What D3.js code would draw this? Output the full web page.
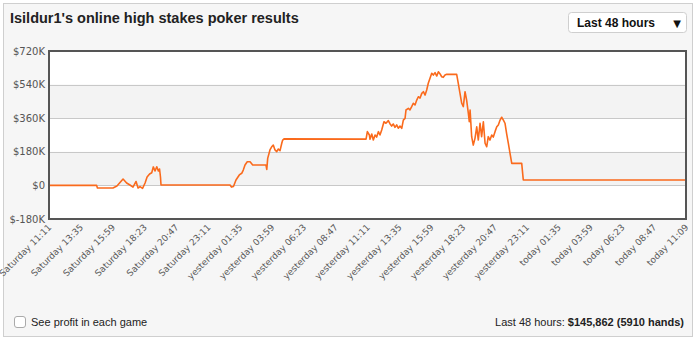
<!DOCTYPE html>
<html>
<head>
<meta charset="utf-8">
<script src="https://cdn.jsdelivr.net/npm/d3@7"></script>
<style>
  body { margin: 0; background: #fff; }
  svg { display: block; }
</style>
</head>
<body>
<div id="chart"></div>
<script>
// hours since start of the 48h window, and running profit in $K
var hours = [0, 3.59, 3.65, 4.82, 5.12, 5.58, 5.85, 6.10, 6.33, 6.56, 6.71, 6.86, 7.05, 7.24, 7.39, 7.58, 7.74, 7.86, 7.99, 8.12, 8.24, 8.33, 8.40, 8.44,
  13.64, 13.75, 13.90, 14.09, 14.34, 14.52, 14.64, 14.77, 14.94, 15.15, 15.35, 16.35, 16.41, 16.48, 16.65, 16.78, 16.90, 17.03, 17.16, 17.28, 17.41, 17.54, 17.61, 17.71,
  23.89, 23.99, 24.14, 24.19, 24.32, 24.44, 24.57, 24.69, 24.82, 24.94, 25.07, 25.24, 25.39, 25.57, 25.70, 25.82, 25.94, 26.07, 26.20, 26.32, 26.45, 26.58, 26.70, 26.83,
  26.90, 27.08, 27.20, 27.33, 27.45, 27.58, 27.71, 27.83, 27.96, 28.09, 28.21, 28.34, 28.46, 28.58, 28.71, 28.84, 28.96, 29.09, 29.22, 29.34, 29.47, 29.59, 29.71, 29.84, 29.97,
  30.72, 30.84, 30.97, 31.10, 31.22, 31.35, 31.47, 31.60, 31.67, 31.73, 31.85, 31.97, 32.10, 32.23, 32.35, 32.48, 32.60, 32.73, 32.86, 32.98, 33.10, 33.23, 33.36, 33.48,
  33.61, 33.74, 33.86, 33.99, 34.11, 34.24, 34.36, 34.49, 34.61, 34.74, 34.87, 35.62, 35.74, 48];
var profit = [0, 0, -14, -14, -3, 34, 13, 2, -9, 21, -14, -6, -16, 13, 45, 61, 68, 99, 77, 100, 77, 88, 45, 2,
  2, -9, -6, 29, 56, 65, 82, 109, 127, 127, 109, 109, 86, 145, 190, 207, 216, 190, 181, 195, 186, 226, 243, 249,
  248, 288, 270, 247, 275, 243, 270, 259, 288, 270, 297, 341, 333, 347, 329, 318, 329, 311, 324, 306, 318, 306, 350, 359,
  404, 413, 404, 422, 440, 431, 457, 475, 468, 493, 502, 484, 511, 547, 574, 601, 591, 604, 586, 609, 597, 582, 579, 591, 595,
  595, 547, 493, 440, 422, 502, 457, 386, 341, 404, 261, 216, 252, 314, 243, 333, 261, 341, 226, 207, 261, 243, 270, 259,
  288, 314, 324, 350, 365, 350, 333, 275, 226, 172, 118, 118, 29, 29];

var yTicks = [-180, 0, 180, 360, 540, 720];
var xLabels = ["Saturday 11:11", "Saturday 13:35", "Saturday 15:59", "Saturday 18:23", "Saturday 20:47", "Saturday 23:11",
  "yesterday 01:35", "yesterday 03:59", "yesterday 06:23", "yesterday 08:47", "yesterday 11:11", "yesterday 13:35",
  "yesterday 15:59", "yesterday 18:23", "yesterday 20:47", "yesterday 23:11",
  "today 01:35", "today 03:59", "today 06:23", "today 08:47", "today 11:09"];

var W = 700, H = 346;
var plot = {left: 49, top: 51, right: 686, bottom: 219};
var axisFont = "DejaVu Sans, Verdana, sans-serif";
var uiFont = "Liberation Sans, Arial, Helvetica, sans-serif";

var svg = d3.select("#chart").append("svg").attr("width", W).attr("height", H);

// outer panel
svg.append("rect").attr("x", 3.5).attr("y", 3.5).attr("width", 689).attr("height", 333)
  .style("fill", "#f6f6f6").style("stroke", "#cfcfcf");

svg.append("text").attr("x", 10).attr("y", 23)
  .style("font-family", uiFont).style("font-weight", "bold").style("font-size", "14.5px")
  .style("fill", "#222").text("Isildur1's online high stakes poker results");

// dropdown
var dd = svg.append("g");
dd.append("rect").attr("x", 568.5).attr("y", 12.5).attr("width", 118).attr("height", 20).attr("rx", 3)
  .style("fill", "#fff").style("stroke", "#cfcfcf");
dd.append("text").attr("x", 577).attr("y", 26.5)
  .style("font-family", uiFont).style("font-weight", "bold").style("font-size", "12px").style("fill", "#111")
  .text("Last 48 hours");
dd.append("text").attr("x", 677).attr("y", 26.5).attr("text-anchor", "middle")
  .style("font-family", axisFont).style("font-size", "10px").style("fill", "#111").text("\u25BC");

var x = d3.scaleLinear().domain([0, 48]).range([plot.left, plot.right]);
var y = d3.scaleLinear().domain([-180, 720]).range([plot.bottom, plot.top]);

// plot background and alternating bands
svg.append("rect").attr("x", plot.left).attr("y", plot.top)
  .attr("width", plot.right - plot.left).attr("height", plot.bottom - plot.top).style("fill", "#fff");
[[360, 540], [0, 180]].forEach(function(b) {
  svg.append("rect").attr("x", plot.left).attr("y", y(b[1]))
    .attr("width", plot.right - plot.left).attr("height", y(b[0]) - y(b[1]))
    .style("fill", "#f3f3f3");
});
svg.selectAll("line.grid").data(yTicks.slice(1, -1)).enter().append("line")
  .attr("class", "grid")
  .attr("x1", plot.left).attr("x2", plot.right)
  .attr("y1", function(d) { return Math.round(y(d)) + 0.5; })
  .attr("y2", function(d) { return Math.round(y(d)) + 0.5; })
  .style("stroke", "#c8c8c8");

// y axis labels
svg.selectAll("text.ylab").data(yTicks).enter().append("text")
  .attr("class", "ylab")
  .attr("x", 45).attr("y", function(d) { return y(d) + 3.5; })
  .attr("text-anchor", "end")
  .style("font-family", axisFont).style("font-size", "10px").style("fill", "#555")
  .text(function(d) { return "$" + (d === 0 ? "0" : d + "K"); });

// profit line
var line = d3.line()
  .x(function(d, i) { return x(hours[i]); })
  .y(function(d) { return y(d); });
svg.append("path").datum(profit)
  .attr("d", line)
  .style("fill", "none").style("stroke", "#fa6a1c").style("stroke-width", 1.6)
  .style("stroke-linejoin", "round");

// plot frame
svg.append("rect").attr("x", plot.left).attr("y", plot.top)
  .attr("width", plot.right - plot.left).attr("height", plot.bottom - plot.top)
  .style("fill", "none").style("stroke", "#555").style("stroke-width", 2);

// x labels, rotated
svg.selectAll("text.xlab").data(xLabels).enter().append("text")
  .attr("class", "xlab")
  .attr("text-anchor", "end")
  .attr("transform", function(d, i) { return "translate(" + (x(i * 2.4) + 3) + "," + 228 + ") rotate(-45)"; })
  .style("font-family", axisFont).style("font-size", "9px").style("fill", "#5a5a5a")
  .text(function(d) { return d; });

// footer
svg.append("rect").attr("x", 14.5).attr("y", 316.5).attr("width", 11).attr("height", 11).attr("rx", 2.5)
  .style("fill", "#fff").style("stroke", "#aaa");
svg.append("text").attr("x", 31).attr("y", 326)
  .style("font-family", uiFont).style("font-size", "11px").style("fill", "#222")
  .text("See profit in each game");

var foot = svg.append("text").attr("x", 684).attr("y", 326).attr("text-anchor", "end")
  .style("font-family", uiFont).style("font-size", "11px").style("fill", "#222");
foot.append("tspan").text("Last 48 hours: ");
foot.append("tspan").style("font-weight", "bold").text("$145,862 (5910 hands)");
</script>
</body>
</html>
